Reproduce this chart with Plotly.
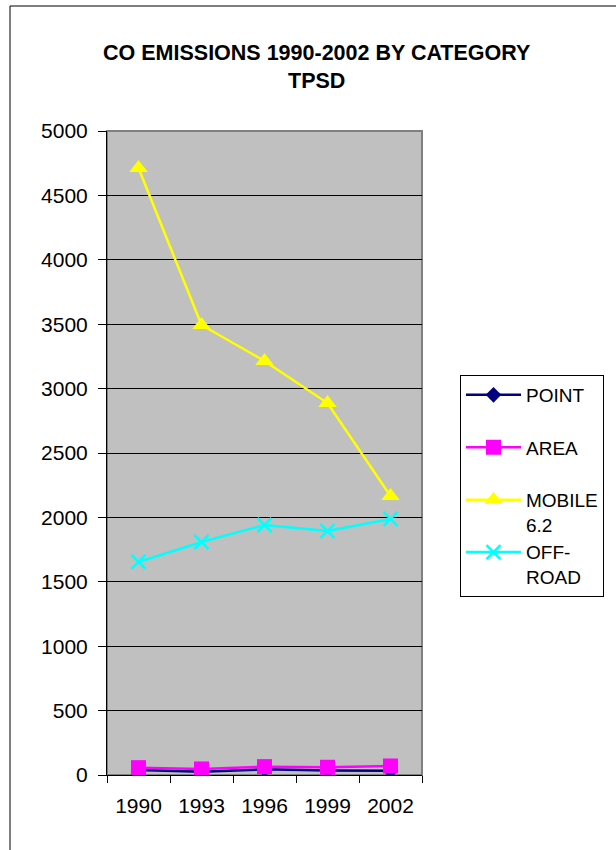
import plotly.graph_objects as go

years = ["1990", "1993", "1996", "1999", "2002"]
point = [39, 26, 44, 35, 33]
area = [57, 47, 65, 60, 70]
mobile = [4713, 3494, 3214, 2888, 2166]
offroad = [1654, 1809, 1941, 1894, 1988]
names = ["POINT<br> ", "AREA<br> ", "MOBILE<br>6.2", "OFF-<br>ROAD"]

W, H = 616, 850
L, R, T, B = 107, 194, 131, 75
pw, ph = W - L - R, H - T - B

fig = go.Figure()
fig.add_trace(go.Scatter(x=years, y=point, name=names[0], legendgroup="a", mode="lines+markers",
                         line=dict(color="#000080", width=2.5),
                         marker=dict(symbol="diamond", size=12, color="#000080")))
fig.add_trace(go.Scatter(x=years, y=area, name=names[1], legendgroup="b", mode="lines+markers",
                         line=dict(color="#FF00FF", width=2.5),
                         marker=dict(symbol="square", size=15, color="#FF00FF")))
fig.add_trace(go.Scatter(x=years, y=mobile, name=names[2], legendgroup="c", mode="lines+markers",
                         line=dict(color="#FFFF00", width=2.5),
                         marker=dict(symbol="triangle-up", size=16, color="#FFFF00")))
fig.add_trace(go.Scatter(x=years, y=offroad, name=names[3], legendgroup="d", mode="lines+markers",
                         line=dict(color="#00FFFF", width=2.5),
                         marker=dict(symbol="x-thin", size=14, color="#00FFFF",
                                     line=dict(color="#00FFFF", width=2.5))))

def px2x(px):
    return (px - L) / pw

def px2y(py):
    return 1 - (py - T) / ph

fig.update_layout(
    width=W, height=H,
    margin=dict(l=L, r=R, t=T, b=B, autoexpand=False),
    paper_bgcolor="white",
    plot_bgcolor="#C0C0C0",
    font=dict(family="Liberation Sans, Arial, sans-serif", size=21, color="black"),
    showlegend=True,
    legend=dict(x=px2x(460), y=px2y(375), xanchor="left", yanchor="top",
                bordercolor="black", borderwidth=1, bgcolor="white",
                font=dict(size=19), tracegroupgap=0, traceorder="grouped",
                itemwidth=55, valign="top"),
    xaxis=dict(type="category", range=[-0.5, 4.5], showgrid=False,
               ticks="outside", tickson="boundaries", ticklen=7, tickcolor="black",
               showline=True, linecolor="black", linewidth=1, mirror=False,
               tickfont=dict(size=21), ticklabelstandoff=12),
    yaxis=dict(range=[0, 5000], dtick=500, showgrid=True, gridcolor="black", gridwidth=1,
               ticks="outside", ticklen=8, tickcolor="black",
               showline=True, linecolor="black", linewidth=1, zeroline=False,
               tickfont=dict(size=21), ticklabelstandoff=6),
    shapes=[
        dict(type="rect", xref="paper", yref="paper", x0=0, x1=1, y0=0, y1=1,
             line=dict(color="#808080", width=2), layer="below"),
        dict(type="rect", xref="paper", yref="paper",
             x0=px2x(10), x1=px2x(640), y0=px2y(6), y1=px2y(880),
             line=dict(color="black", width=1)),
    ],
    annotations=[
        dict(text="<b>CO EMISSIONS 1990-2002 BY CATEGORY<br>TPSD</b>", xref="paper", yref="paper",
             x=px2x(316), y=px2y(67), xanchor="center", yanchor="middle", showarrow=False,
             font=dict(size=21.5, color="black")),
    ],
)

fig.write_html("out.html", config={"displayModeBar": False},
               post_script="document.body.style.margin='0px';")
